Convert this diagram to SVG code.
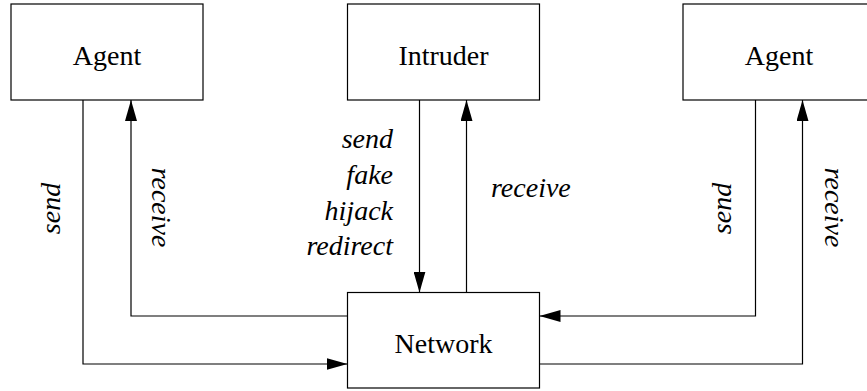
<svg xmlns="http://www.w3.org/2000/svg" width="867" height="391" viewBox="0 0 867 391">
<style>
.box{fill:#fff;stroke:#000;stroke-width:1.2}
.lbl{font-family:"Liberation Serif","Times New Roman",serif;font-size:28px;fill:#000;text-anchor:middle}
.it{font-family:"Liberation Serif","Times New Roman",serif;font-size:28px;font-style:italic;fill:#000}
.ln{fill:none;stroke:#000;stroke-width:1.2}
</style>
<defs>
<marker id="ah" markerUnits="userSpaceOnUse" markerWidth="22" markerHeight="12" refX="21" refY="6" orient="auto">
<path d="M0,0 L21,6 L0,12 Z" fill="#000"/>
</marker>
</defs>
<g id="agent-left"><rect class="box" x="11" y="4" width="192" height="96"/><text class="lbl" x="107" y="65">Agent</text></g>
<g id="intruder"><rect class="box" x="347.5" y="4" width="192" height="96"/><text class="lbl" x="443.5" y="65">Intruder</text></g>
<g id="agent-right"><rect class="box" x="683" y="4" width="192" height="96"/><text class="lbl" x="779" y="65">Agent</text></g>
<g id="network"><rect class="box" x="347.5" y="292.5" width="192" height="95.5"/><text class="lbl" x="443.5" y="353">Network</text></g>
<g id="connectors">
<path class="ln" d="M83,100 V364 H347.5" marker-end="url(#ah)"/>
<path class="ln" d="M347.5,316 H131 V100" marker-end="url(#ah)"/>
<path class="ln" d="M419.5,100 V292.5" marker-end="url(#ah)"/>
<path class="ln" d="M466.5,292.5 V100" marker-end="url(#ah)"/>
<path class="ln" d="M755.5,100 V316 H539.5" marker-end="url(#ah)"/>
<path class="ln" d="M539.5,364 H802.5 V100" marker-end="url(#ah)"/>
<text class="it" text-anchor="middle" transform="translate(60,208.5) rotate(-90)">send</text>
<text class="it" text-anchor="middle" transform="translate(152,207.5) rotate(90)">receive</text>
<text class="it" text-anchor="middle" transform="translate(730.5,208.5) rotate(-90)">send</text>
<text class="it" text-anchor="middle" transform="translate(825,207.5) rotate(90)">receive</text>
<text class="it" text-anchor="end" x="393" y="148">send</text>
<text class="it" text-anchor="end" x="393" y="184">fake</text>
<text class="it" text-anchor="end" x="393" y="220">hijack</text>
<text class="it" text-anchor="end" x="393" y="255">redirect</text>
<text class="it" x="491" y="197">receive</text>
</g>
</svg>
